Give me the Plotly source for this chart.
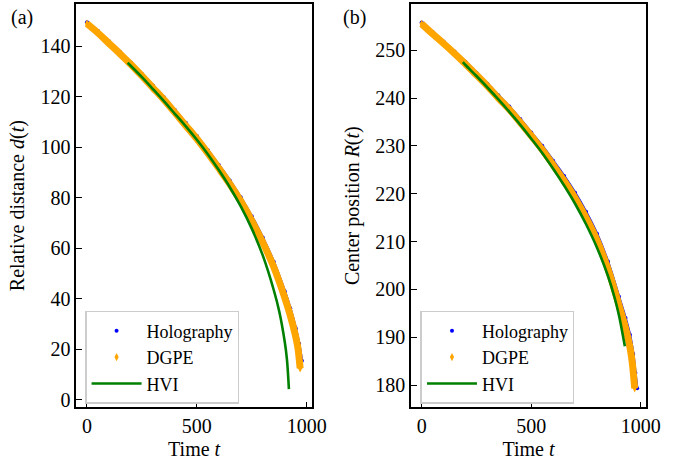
import plotly.graph_objects as go

# ---------------- data ----------------
# Panel (a): relative distance d(t)
t_holo_a = [0, 50, 100, 150, 200, 250, 300, 350, 400, 450, 500, 550, 600, 650,
            700, 750, 800, 850, 900, 925, 950, 965, 978]
d_holo = [149.6, 146.1, 142.0, 137.9, 133.6, 129.1, 124.5, 119.8, 114.8, 109.7,
          104.5, 98.9, 93.0, 86.9, 80.2, 72.7, 64.3, 54.7, 43.0, 36.3, 28.3, 22.3, 15.5]

t_dgpe_a = [0, 50, 100, 150, 200, 250, 300, 350, 400, 450, 500, 550, 600, 650,
            700, 750, 800, 850, 900, 925, 950, 960, 970]
d_dgpe = [149.0, 145.3, 141.2, 137.1, 132.8, 128.3, 123.6, 118.9, 113.8, 108.6,
          103.4, 97.7, 91.7, 85.5, 78.7, 71.0, 62.4, 52.6, 40.5, 33.5, 25.0, 20.5, 12.5]

t_hvi_a = [185, 250, 300, 350, 400, 450, 500, 550, 600, 650, 700, 750, 800,
           850, 875, 900, 910, 919]
d_hvi = [133.5, 127.8, 123.1, 118.3, 113.3, 108.3, 103.0, 97.3, 91.0, 84.2, 76.6,
         67.8, 57.2, 43.5, 35.0, 23.0, 16.0, 4.2]

# Panel (b): center position R(t)
t_holo_b = [0, 50, 100, 150, 200, 250, 300, 350, 400, 450, 500, 550, 600, 650,
            700, 750, 800, 850, 900, 930, 950, 965, 975, 983]
R_holo = [255.8, 253.8, 251.8, 249.7, 247.6, 245.3, 243.0, 240.6, 238.2, 235.6,
          232.8, 230.0, 226.9, 223.7, 220.2, 216.2, 211.6, 205.8, 198.5, 194.0,
          190.5, 186.5, 182.5, 179.3]

t_dgpe_b = [0, 50, 100, 150, 200, 250, 300, 350, 400, 450, 500, 550, 600, 650,
            700, 750, 800, 850, 900, 930, 950, 960, 972]
R_dgpe = [255.5, 253.4, 251.4, 249.3, 247.1, 244.8, 242.5, 240.0, 237.6, 234.9,
          232.1, 229.2, 226.0, 222.7, 219.1, 215.0, 210.3, 204.3, 196.8, 192.0,
          188.0, 185.0, 179.3]

t_hvi_b = [188, 200, 250, 300, 350, 400, 450, 500, 550, 600, 650, 700, 750, 800,
           850, 880, 900, 915, 927]
R_hvi = [247.5, 246.9, 244.6, 242.2, 239.7, 237.1, 234.4, 231.5, 228.5, 225.2,
         221.7, 217.9, 213.6, 208.7, 202.8, 198.3, 194.6, 191.1, 188.1]

x_ticks = [0, 500, 1000]
ya_ticks = [0, 20, 40, 60, 80, 100, 120, 140]
yb_ticks = [180, 190, 200, 210, 220, 230, 240, 250]

BLUE = "#0000ff"
ORANGE = "#ffa500"
GREEN = "#008000"
FONT = "Liberation Serif, DejaVu Serif, serif"

fig = go.Figure()


def add_panel(xa, ya, leg, th, vh, td, vd, tv, vv):
    # Holography: dense small blue dots -> continuous thin band + dots
    fig.add_trace(go.Scatter(x=th, y=vh, mode="lines",
                             line=dict(color=BLUE, width=2.6, shape="spline"),
                             xaxis=xa, yaxis=ya, showlegend=False, hoverinfo="skip"))
    fig.add_trace(go.Scatter(x=th, y=vh, mode="markers", name="Holography",
                             marker=dict(color=BLUE, size=4, symbol="circle"),
                             xaxis=xa, yaxis=ya, legend=leg))
    # DGPE: dense thin diamonds -> thicker orange band + diamonds
    fig.add_trace(go.Scatter(x=td, y=vd, mode="lines",
                             line=dict(color=ORANGE, width=7, shape="spline"),
                             xaxis=xa, yaxis=ya, showlegend=False, hoverinfo="skip"))
    fig.add_trace(go.Scatter(x=td, y=vd, mode="markers", name="DGPE",
                             marker=dict(color=ORANGE, size=6, symbol="diamond-tall"),
                             xaxis=xa, yaxis=ya, legend=leg))
    # HVI: green line
    fig.add_trace(go.Scatter(x=tv, y=vv, mode="lines", name="HVI",
                             line=dict(color=GREEN, width=2.6, shape="spline"),
                             xaxis=xa, yaxis=ya, legend=leg))


add_panel("x", "y", "legend", t_holo_a, d_holo, t_dgpe_a, d_dgpe, t_hvi_a, d_hvi)
add_panel("x2", "y2", "legend2", t_holo_b, R_holo, t_dgpe_b, R_dgpe, t_hvi_b, R_hvi)

W, H = 677, 466
axis_common = dict(showline=True, linecolor="black", linewidth=1.6, mirror=True,
                   ticks="inside", ticklen=6, tickwidth=1.3, tickcolor="black",
                   showgrid=False, zeroline=False,
                   tickfont=dict(family=FONT, size=20, color="black"))

legend_common = dict(y=1 - 313 / H, xanchor="left", yanchor="top",
                     bgcolor="rgba(255,255,255,0.8)", bordercolor="#cccccc",
                     borderwidth=1.5, font=dict(family=FONT, size=18, color="black"),
                     itemwidth=50, tracegroupgap=0)

fig.update_layout(
    width=W, height=H,
    margin=dict(l=0, r=0, t=0, b=0),
    paper_bgcolor="white", plot_bgcolor="white",
    font=dict(family=FONT, size=20, color="black"),
    xaxis=dict(domain=[78 / W, 319 / W], range=[-48.75, 1023.75], tickvals=x_ticks,
               title=dict(text="Time <i>t</i>", standoff=6, font=dict(family=FONT, size=20)),
               anchor="y", **axis_common),
    yaxis=dict(domain=[1 - 410 / H, 1 - 4 / H], range=[-3.0, 156.8], tickvals=ya_ticks,
               title=dict(text="Relative distance <i>d</i>(<i>t</i>)", standoff=10,
                          font=dict(family=FONT, size=20)),
               anchor="x", **axis_common),
    xaxis2=dict(domain=[420.3 / W, 660.7 / W], range=[-48.75, 1023.75], tickvals=x_ticks,
                title=dict(text="Time <i>t</i>", standoff=6, font=dict(family=FONT, size=20)),
                anchor="y2", **axis_common),
    yaxis2=dict(domain=[1 - 410 / H, 1 - 4 / H], range=[175.33, 259.66], tickvals=yb_ticks,
                title=dict(text="Center position <i>R</i>(<i>t</i>)", standoff=10,
                           font=dict(family=FONT, size=20)),
                anchor="x2", **axis_common),
    legend=dict(x=87 / W, **legend_common),
    legend2=dict(x=430 / W, **legend_common),
    annotations=[
        dict(text="(a)", x=23 / W, y=1 - 18 / H, xref="paper", yref="paper",
             xanchor="center", yanchor="middle", showarrow=False,
             font=dict(family=FONT, size=20, color="black")),
        dict(text="(b)", x=363 / W, y=1 - 18 / H, xref="paper", yref="paper",
             xanchor="center", yanchor="middle", showarrow=False,
             font=dict(family=FONT, size=20, color="black")),
    ],
)

# remove the browser's default 8px body margin so the figure sits at (0, 0)
fig.write_html("out.html", config={"displayModeBar": False},
               post_script="document.body.style.margin='0';")
